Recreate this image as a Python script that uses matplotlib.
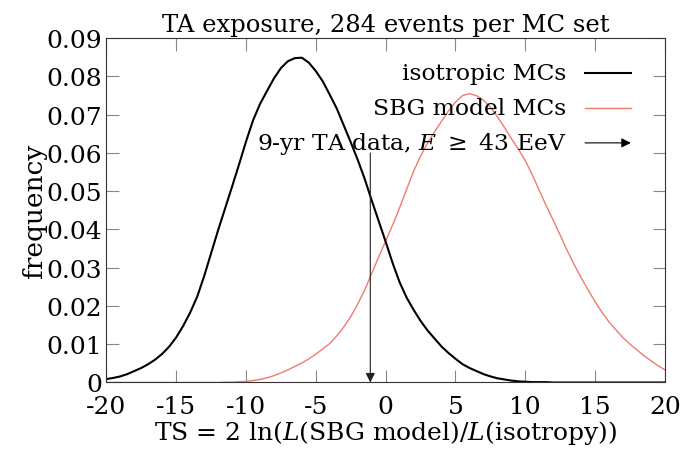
import numpy as np
from matplotlib import pyplot as plt

# ----- data (bin centres every 0.5 in TS)

ts = np.arange(-20, 20.5, 0.5)

isotropic = [
    0.0009, 0.0012, 0.0016, 0.0022, 0.0030, 0.0038, 0.0048, 0.0060, 0.0075, 0.0094,
    0.0118, 0.0148, 0.0183, 0.0224, 0.0278, 0.0338, 0.0398, 0.0455, 0.0512, 0.0570,
    0.0630, 0.0685, 0.0728, 0.0762, 0.0795, 0.0822, 0.0840, 0.0848, 0.0849, 0.0836,
    0.0814, 0.0787, 0.0752, 0.0716, 0.0672, 0.0628, 0.0582, 0.0532, 0.0476, 0.0422,
    0.0368, 0.0312, 0.0262, 0.0222, 0.0190, 0.0161, 0.0136, 0.0115, 0.0094, 0.0077,
    0.0062, 0.0048, 0.0038, 0.0030, 0.0022, 0.0016, 0.0011, 0.0008, 0.0005, 0.0003,
    0.0002, 0.0001, 0.0001, 0.0001, 0.0000, 0.0000, 0.0000, 0.0000, 0.0000, 0.0000,
    0.0000, 0.0000, 0.0000, 0.0000, 0.0000, 0.0000, 0.0000, 0.0000, 0.0000, 0.0000,
    0.0000,
]

sbg_model = [
    0.0000, 0.0000, 0.0000, 0.0000, 0.0000, 0.0000, 0.0000, 0.0000, 0.0000, 0.0000,
    0.0000, 0.0000, 0.0000, 0.0000, 0.0000, 0.0000, 0.0000, 0.0001, 0.0001, 0.0002,
    0.0003, 0.0005, 0.0008, 0.0012, 0.0018, 0.0025, 0.0033, 0.0042, 0.0051, 0.0062,
    0.0074, 0.0088, 0.0102, 0.0122, 0.0145, 0.0172, 0.0205, 0.0242, 0.0285, 0.0328,
    0.0370, 0.0412, 0.0457, 0.0505, 0.0552, 0.0592, 0.0626, 0.0655, 0.0683, 0.0710,
    0.0733, 0.0750, 0.0755, 0.0750, 0.0738, 0.0720, 0.0695, 0.0667, 0.0638, 0.0610,
    0.0580, 0.0543, 0.0502, 0.0462, 0.0424, 0.0385, 0.0345, 0.0308, 0.0274, 0.0242,
    0.0211, 0.0183, 0.0158, 0.0137, 0.0117, 0.0100, 0.0085, 0.0070, 0.0057, 0.0044,
    0.0033,
]

ta_data_ts = -1.1  # observed TS, 9-yr TA data
arrow_top = 0.060

x_ticks = [-20, -15, -10, -5, 0, 5, 10, 15, 20]
y_ticks = [0, 0.01, 0.02, 0.03, 0.04, 0.05, 0.06, 0.07, 0.08, 0.09]
y_labels = ["0", "0.01", "0.02", "0.03", "0.04", "0.05", "0.06", "0.07", "0.08", "0.09"]

red = "#ee7b70"

# ----- plotting

plt.rcParams['font.family'] = 'DejaVu Serif'
plt.rcParams['mathtext.fontset'] = 'dejavuserif'

fig = plt.figure(figsize=(6.82, 4.56), dpi=100)
ax = fig.add_axes([0.156, 0.159, 0.819, 0.755])

ax.plot(ts, sbg_model, color=red, lw=1.0)
ax.plot(ts, isotropic, color="black", lw=1.5)

ax.annotate("", xy=(ta_data_ts, 0), xytext=(ta_data_ts, arrow_top),
            arrowprops=dict(arrowstyle="-|>", color="#222222", lw=0.8,
                            mutation_scale=14, shrinkA=0, shrinkB=0))

ax.set_xlim(-20, 20)
ax.set_ylim(0, 0.09)
ax.set_xticks(x_ticks)
ax.set_xticklabels([str(t) for t in x_ticks])
ax.set_yticks(y_ticks)
ax.set_yticklabels(y_labels)
ax.tick_params(direction="in", length=9, width=0.8, color="#888888",
               labelsize=18, top=True, right=True)
ax.tick_params(axis="x", pad=9)
ax.tick_params(axis="y", pad=3)
for s in ax.spines.values():
    s.set_linewidth(0.8)
    s.set_color("#333333")

ax.set_title("TA exposure, 284 events per MC set", fontsize=17.5, pad=5)
ax.set_xlabel(r"TS = 2 ln($L$(SBG model)/$L$(isotropy))", fontsize=18, labelpad=0)
ax.set_ylabel("frequency", fontsize=19, labelpad=0)

# key, gnuplot style: right-aligned text then sample
rows = [("isotropic MCs", 0.900), ("SBG model MCs", 0.798),
        (r"9-yr TA data, $E$ $\geq$ 43 EeV", 0.696)]
for txt, yy in rows:
    ax.text(0.824, yy, txt, transform=ax.transAxes, ha="right", va="center",
            fontsize=16.8)
ax.plot([0.857, 0.939], [0.900, 0.900], color="black", lw=1.5, transform=ax.transAxes)
ax.plot([0.857, 0.939], [0.798, 0.798], color=red, lw=1.0, transform=ax.transAxes)
ax.annotate("", xy=(0.939, 0.696), xytext=(0.857, 0.696),
            xycoords="axes fraction", textcoords="axes fraction",
            arrowprops=dict(arrowstyle="-|>", color="black", lw=0.8,
                            mutation_scale=14, shrinkA=0, shrinkB=0))

plt.savefig("out.png", dpi=100)
